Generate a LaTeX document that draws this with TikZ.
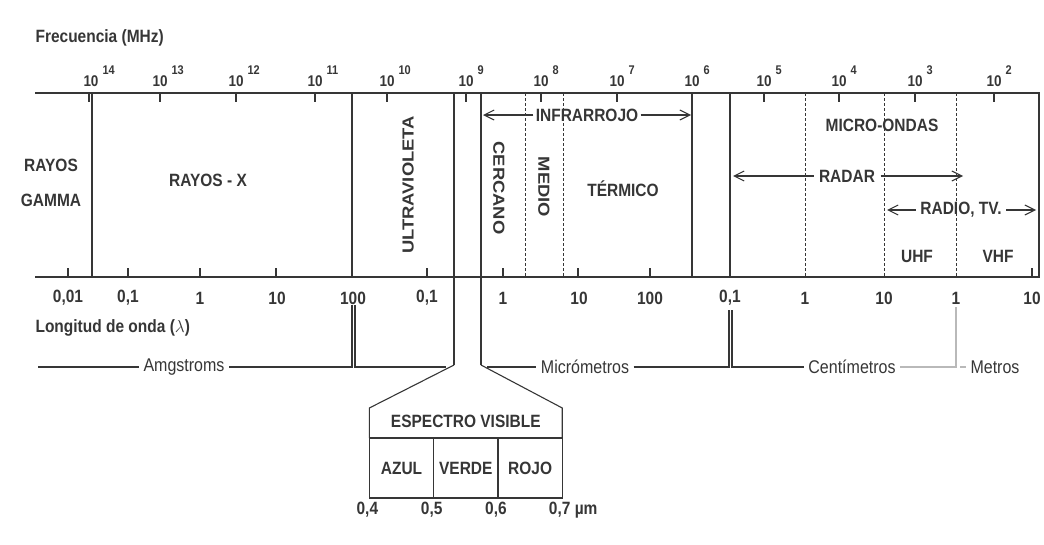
\documentclass[tikz,border=0pt]{standalone}
\usepackage{fontspec}
\setmainfont{Liberation Sans}
\newfontfamily\alta[FakeStretch=0.87]{Liberation Sans}
\newfontfamily\ancha[FakeStretch=1.15]{Liberation Sans}
\usetikzlibrary{
    arrows.meta,
    positioning
}
\definecolor{tinta}{HTML}{363636}
\tikzset{
  every path/.style={
    tinta,
    line width=1.1pt
  },
  every node/.style={
    inner sep=2pt,
    font=\alta\fontsize{17.8}{21}\selectfont\bfseries
  },
  fina/.style={inner sep=4pt, font=\alta\fontsize{18.4}{21}\selectfont},
  pot/.style={inner sep=0pt, font=\alta\fontsize{15.5}{18}\selectfont\bfseries},
  potexp/.style={inner sep=0pt, font=\alta\fontsize{12.6}{15}\selectfont\bfseries},
  girada/.style={font=\ancha\fontsize{16}{19}\selectfont\bfseries},
  celda/.style={draw, minimum width=64.3pt, minimum height=60pt,
    inner sep=0pt, outer sep=0pt},
  division/.style={dash pattern=on 3pt off 2pt, line width=0.8pt},
  tenue/.style={gray!55},
  >={Straight Barb[length=10pt,width=10pt]}
}

\begin{document}
\begin{tikzpicture}[x=1pt, y=-1pt, tinta]
    \useasboundingbox (0,0) rectangle (1044,544);

    %-------------------------
    % marco del espectro
    %-------------------------
    \draw (35,93) -- (1039,93) -- (1039,277) -- (35,277);
    \draw (92,93) -- (92,277);
    \draw (352,93) -- (352,277);
    \draw (692,93) -- (692,277);
    \draw (730,93) -- (730,277);
    \coordinate (uvA) at (454,365);
    \coordinate (visA) at (481,365);
    \draw (454,93) -- (uvA);
    \draw (481,93) -- (visA);
    \draw[division] (525,93) -- (525,277);
    \draw[division] (563,93) -- (563,277);
    \draw[division] (805,93) -- (805,277);
    \draw[division] (884,93) -- (884,277);
    \draw[division] (956,93) -- (956,277);

    % marcas de frecuencia
    \draw (89,93) -- ++(0,9) (160,93) -- ++(0,9) (236,93) -- ++(0,9)
          (315,93) -- ++(0,9) (387,93) -- ++(0,9) (466,93) -- ++(0,9)
          (541,93) -- ++(0,9) (617,93) -- ++(0,9) (764,93) -- ++(0,9)
          (839,93) -- ++(0,9) (915,93) -- ++(0,9) (994,93) -- ++(0,9);

    % marcas de longitud de onda
    \draw (68,277) -- ++(0,-9) (128,277) -- ++(0,-9) (200,277) -- ++(0,-9)
          (276,277) -- ++(0,-9) (427,277) -- ++(0,-9) (503,277) -- ++(0,-9)
          (578,277) -- ++(0,-9) (650,277) -- ++(0,-9) (1032,277) -- ++(0,-9);

    %-------------------------
    % frecuencia (MHz)
    %-------------------------
    \node[anchor=west] (frec) at (33,38) {Frecuencia (MHz)};

    \node[pot, anchor=base] (f14) at (91,86) {10};
    \node[potexp, anchor=base west, xshift=3pt, yshift=12pt] (f14e) at (f14.base east) {14};
    \node[pot, anchor=base] (f13) at (160,86) {10};
    \node[potexp, anchor=base west, xshift=3pt, yshift=12pt] (f13e) at (f13.base east) {13};
    \node[pot, anchor=base] (f12) at (236,86) {10};
    \node[potexp, anchor=base west, xshift=3pt, yshift=12pt] (f12e) at (f12.base east) {12};
    \node[pot, anchor=base] (f11) at (315,86) {10};
    \node[potexp, anchor=base west, xshift=3pt, yshift=12pt] (f11e) at (f11.base east) {11};
    \node[pot, anchor=base] (f10) at (387,86) {10};
    \node[potexp, anchor=base west, xshift=3pt, yshift=12pt] (f10e) at (f10.base east) {10};
    \node[pot, anchor=base] (f9) at (466,86) {10};
    \node[potexp, anchor=base west, xshift=3pt, yshift=12pt] (f9e) at (f9.base east) {9};
    \node[pot, anchor=base] (f8) at (541,86) {10};
    \node[potexp, anchor=base west, xshift=3pt, yshift=12pt] (f8e) at (f8.base east) {8};
    \node[pot, anchor=base] (f7) at (617,86) {10};
    \node[potexp, anchor=base west, xshift=3pt, yshift=12pt] (f7e) at (f7.base east) {7};
    \node[pot, anchor=base] (f6) at (692,86) {10};
    \node[potexp, anchor=base west, xshift=3pt, yshift=12pt] (f6e) at (f6.base east) {6};
    \node[pot, anchor=base] (f5) at (764,86) {10};
    \node[potexp, anchor=base west, xshift=3pt, yshift=12pt] (f5e) at (f5.base east) {5};
    \node[pot, anchor=base] (f4) at (839,86) {10};
    \node[potexp, anchor=base west, xshift=3pt, yshift=12pt] (f4e) at (f4.base east) {4};
    \node[pot, anchor=base] (f3) at (915,86) {10};
    \node[potexp, anchor=base west, xshift=3pt, yshift=12pt] (f3e) at (f3.base east) {3};
    \node[pot, anchor=base] (f2) at (994,86) {10};
    \node[potexp, anchor=base west, xshift=3pt, yshift=12pt] (f2e) at (f2.base east) {2};

    %-------------------------
    % bandas
    %-------------------------
    \node[align=center] (gamma) at (51,183) {RAYOS\\[14pt]GAMMA};
    \node (rayosx) at (208,180) {RAYOS - X};
    \node[girada, rotate=90] (uv) at (408,185) {ULTRAVIOLETA};
    \node[girada, rotate=-90] (cercano) at (499,188) {CERCANO};
    \node[girada, rotate=-90] (medio) at (544,187) {MEDIO};
    \node (termico) at (623,189) {TÉRMICO};
    \node (micro) at (882,125) {MICRO-ONDAS};
    \node (uhf) at (917,256) {UHF};
    \node (vhf) at (998,256) {VHF};

    \node (infra) at (587,115) {INFRARROJO};
    \coordinate (infraI) at (483,115);
    \coordinate (infraD) at (691,115);
    \draw[->] (infra) -- (infraI);
    \draw[->] (infra) -- (infraD);

    \node[inner sep=5pt] (radar) at (847,176) {RADAR};
    \coordinate (radarI) at (733,176);
    \coordinate (radarD) at (963,176);
    \draw[->] (radar) -- (radarI);
    \draw[->] (radar) -- (radarD);

    \node[inner sep=4pt] (radio) at (961,210) {RADIO, TV.};
    \coordinate (radioI) at (887,210);
    \coordinate (radioD) at (1036,210);
    \draw[->] (radio) -- (radioI);
    \draw[->] (radio) -- (radioD);

    %-------------------------
    % longitud de onda
    %-------------------------
    \node (la001) at (68,298) {0,01};
    \node (la01) at (128,298) {0,1};
    \node (la1) at (200,298) {1};
    \node (la10) at (277,298) {10};
    \node (la100) at (353,298) {100};
    \node (lu01) at (427,298) {0,1};
    \node (lu1) at (503,298) {1};
    \node (lu10) at (579,298) {10};
    \node (lu100) at (650,298) {100};
    \node (lc01) at (730,298) {0,1};
    \node (lc1) at (805,298) {1};
    \node (lc10) at (884,298) {10};
    \node (lm1) at (956,298) {1};
    \node (lm10) at (1032,298) {10};

    \node[anchor=west] (longitud) at (33,328) {Longitud de onda ($\lambda$)};

    % unidades
    \node[fina] (amg) at (184,367) {Amgstroms};
    \node[fina] (micras) at (585,367) {Micrómetros};
    \node[fina] (centi) at (852,367) {Centímetros};
    \node[fina] (metros) at (995,367) {Metros};
    \coordinate (amgI) at (38,367);
    \draw (amgI) -- (amg.west);
    \draw (amg.east) -| (352,305);
    \draw (355,305) |- (446,367);
    \draw (487,367) -- (micras.west);
    \draw (micras.east) -| (729,310);
    \draw (732,310) |- (centi.west);
    \draw[tenue] (centi.east) -| (956,307);
    \draw[tenue] (960,367) -- (metros.west);

    %-------------------------
    % espectro visible
    %-------------------------
    \node[celda] (azul) at (401.5,468) {AZUL};
    \node[celda, right=0pt of azul] (verde) {VERDE};
    \node[celda, right=0pt of verde] (rojo) {ROJO};
    \node (espectro) at (465.8,421) {ESPECTRO VISIBLE};
    \coordinate (techoI) at (369.35,408);
    \coordinate (techoD) at (562.25,408);
    \draw (uvA) -- (techoI) -- (azul.north west);
    \draw (visA) -- (techoD) -- (rojo.north east);
    \draw (azul.north west) -- (rojo.north east);

    \node[below=2pt of azul.south west, xshift=-2pt] (v04) {0,4};
    \node[below=2pt of azul.south east, xshift=-2pt] (v05) {0,5};
    \node[below=2pt of verde.south east, xshift=-2pt] (v06) {0,6};
    \node[below=2pt of rojo.south east, xshift=11pt] (v07) {0,7 µm};
\end{tikzpicture}
\end{document}
